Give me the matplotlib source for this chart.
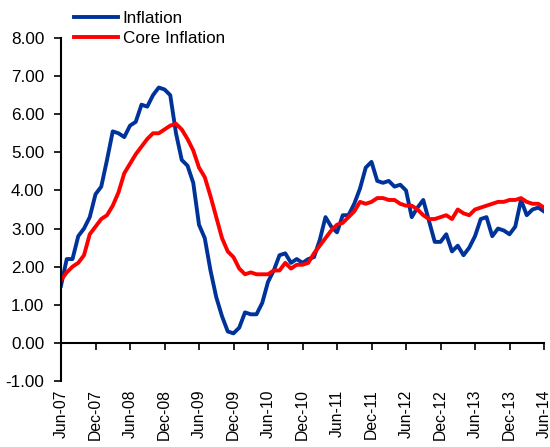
import matplotlib.pyplot as plt
import numpy as np

plt.rcParams['font.family'] = ['Liberation Sans', 'DejaVu Sans']

# monthly data, Jun-07 .. Jun-14
inflation = [1.50, 2.20, 2.20, 2.80, 3.00, 3.30, 3.90, 4.10, 4.80, 5.55,
             5.50, 5.40, 5.70, 5.80, 6.25, 6.20, 6.50, 6.70, 6.65, 6.50,
             5.50, 4.80, 4.65, 4.20, 3.10, 2.75, 1.90, 1.20, 0.70, 0.30,
             0.25, 0.40, 0.80, 0.75, 0.75, 1.05, 1.60, 1.90, 2.30, 2.35,
             2.10, 2.20, 2.10, 2.20, 2.25, 2.70, 3.30, 3.05, 2.90, 3.35,
             3.35, 3.65, 4.05, 4.60, 4.75, 4.25, 4.20, 4.25, 4.10, 4.15,
             4.00, 3.30, 3.55, 3.75, 3.20, 2.65, 2.65, 2.85, 2.40, 2.55,
             2.30, 2.50, 2.80, 3.25, 3.30, 2.80, 3.00, 2.95, 2.85, 3.05,
             3.75, 3.35, 3.50, 3.55, 3.45]
core = [1.65, 1.85, 2.00, 2.10, 2.30, 2.85, 3.05, 3.25, 3.35, 3.60,
        3.95, 4.45, 4.70, 4.95, 5.15, 5.35, 5.50, 5.50, 5.60, 5.70,
        5.75, 5.60, 5.35, 5.05, 4.60, 4.35, 3.85, 3.30, 2.75, 2.40,
        2.25, 1.95, 1.80, 1.85, 1.80, 1.80, 1.80, 1.90, 1.90, 2.10,
        1.95, 2.05, 2.05, 2.10, 2.35, 2.55, 2.75, 2.95, 3.10, 3.15,
        3.30, 3.45, 3.70, 3.65, 3.70, 3.80, 3.80, 3.75, 3.75, 3.65,
        3.60, 3.60, 3.50, 3.35, 3.25, 3.25, 3.30, 3.35, 3.25, 3.50,
        3.40, 3.35, 3.50, 3.55, 3.60, 3.65, 3.70, 3.70, 3.75, 3.75,
        3.80, 3.70, 3.65, 3.65, 3.55]
tick_labels = ['Jun-07', 'Dec-07', 'Jun-08', 'Dec-08', 'Jun-09', 'Dec-09',
               'Jun-10', 'Dec-10', 'Jun-11', 'Dec-11', 'Jun-12', 'Dec-12',
               'Jun-13', 'Dec-13', 'Jun-14']

x = np.arange(len(inflation))
ticks = np.arange(0, len(inflation), 6)

fig = plt.figure(figsize=(5.5, 4.47), dpi=100)
ax = fig.add_axes([61 / 550, 1 - 381 / 447, 483 / 550, 343 / 447])

ax.plot(x, inflation, color='#003399', lw=2.8, label='Inflation', solid_joinstyle='round')
ax.plot(x, core, color='#FF0000', lw=2.8, label='Core Inflation', solid_joinstyle='round')

ax.set_xlim(0, 84)
ax.set_ylim(-1, 8)
ax.set_yticks(np.arange(-1, 9, 1))
ax.set_yticklabels([f'{v:.2f}' for v in np.arange(-1, 9, 1)], fontsize=12.3)
ax.tick_params(axis='y', direction='out', length=5, width=1.2, pad=7)

for s in ['top', 'right', 'bottom']:
    ax.spines[s].set_visible(False)
ax.spines['left'].set_linewidth(1.5)

# labels at the bottom, axis line at zero
ax.set_xticks(ticks)
ax.set_xticklabels(tick_labels, rotation=90, fontsize=11.3)
ax.tick_params(axis='x', length=0, pad=6)

sec = ax.secondary_xaxis(1 / 9)
sec.set_xticks(ticks)
sec.set_xticklabels([])
sec.tick_params(axis='x', direction='out', length=5, width=1.2)
sec.spines['bottom'].set_linewidth(1.5)

fig.legend(loc='upper left', bbox_to_anchor=(74 / 550, 1 - 11 / 447), frameon=False,
           fontsize=12.3, handlelength=2.6, handletextpad=0.25, labelspacing=0.3,
           borderaxespad=0, borderpad=0)

fig.savefig('out.png', dpi=100)
plt.close()
